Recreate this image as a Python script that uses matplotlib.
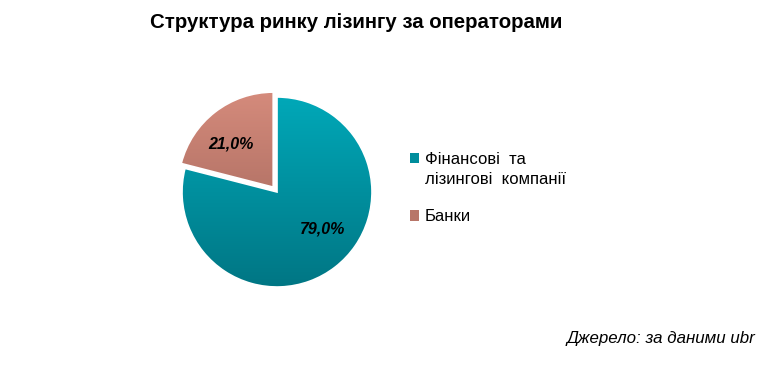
import matplotlib.pyplot as plt
from matplotlib.colors import LinearSegmentedColormap
from matplotlib.legend_handler import HandlerPatch
import numpy as np

plt.rcParams['font.family'] = ['Liberation Sans', 'DejaVu Sans']

# дані
labels = ['Фінансові  та\nлізингові  компанії', 'Банки']
values = [79.0, 21.0]
explode = [0, 0.065]
# кольори: верх / низ градієнта
top_colors = ['#00a8b8', '#d58b7c']
bottom_colors = ['#007684', '#9a6055']
mid_colors = ['#008d9c', '#b87669']

W, H = 771, 365
fig = plt.figure(figsize=(W / 100, H / 100), dpi=100)

# вісь для кола: центр (277, 192) px, радіус 95 px
cx, cy, r, half = 277, 192, 95, 115
ax = fig.add_axes([(cx - half) / W, (H - cy - half) / H, 2 * half / W, 2 * half / H])
wedges, texts = ax.pie(values, explode=explode, startangle=90, counterclock=False,
                       colors=mid_colors, radius=1,
                       wedgeprops=dict(edgecolor='white', linewidth=1.2))
lim = half / r
ax.set_xlim(-lim, lim)
ax.set_ylim(-lim, lim)
ax.set_aspect('equal')
ax.axis('off')

# градієнтна заливка секторів
grad = np.linspace(1, 0, 256).reshape(-1, 1)
for w, ct, cb in zip(wedges, top_colors, bottom_colors):
    cmap = LinearSegmentedColormap.from_list('g', [cb, ct])
    cxw, cyw = w.center
    im = ax.imshow(grad, cmap=cmap, aspect='auto', vmin=0, vmax=1,
                   extent=[cxw - 1, cxw + 1, cyw - 1, cyw + 1], zorder=w.get_zorder() + 0.1)
    im.set_clip_path(w)
    w.set_facecolor('none')
    w.set_zorder(w.get_zorder() + 0.2)

# підписи відсотків
label_pos = [(0.48, -0.39), (-0.48, 0.51)]
for (x, y), v in zip(label_pos, values):
    ax.text(x, y, f'{v:.1f}%'.replace('.', ','), ha='center', va='center',
            fontsize=11.5, fontweight='bold', fontstyle='italic', color='black', zorder=10)


# маркер легенди вирівняний по першому рядку
def top_square(legend, orig_handle, xdescent, ydescent, width, height, fontsize):
    n = orig_handle.get_label().count('\n')
    return plt.Rectangle((-xdescent, -ydescent + n * fontsize * 0.7), width, height)


handles = [plt.Rectangle((0, 0), 1, 1, facecolor=c, label=l) for c, l in zip(mid_colors, labels)]
leg = fig.legend(handles, labels, loc='upper left', bbox_to_anchor=(395 / W, 1 - 137 / H),
                 frameon=False, fontsize=12, handlelength=0.55, handleheight=0.55,
                 handletextpad=0.35, labelspacing=1.32,
                 handler_map={plt.Rectangle: HandlerPatch(patch_func=top_square)})
leg.get_texts()[0].set_linespacing(1.45)

fig.text(150 / W, 1 - 22 / H, 'Структура ринку лізингу за операторами',
         ha='left', va='center', fontsize=14.7, fontweight='bold')
fig.text(755 / W, 1 - 338 / H, 'Джерело: за даними ubr',
         ha='right', va='center', fontsize=12.2, fontstyle='italic')

fig.savefig('out.png', dpi=100, facecolor='white')
